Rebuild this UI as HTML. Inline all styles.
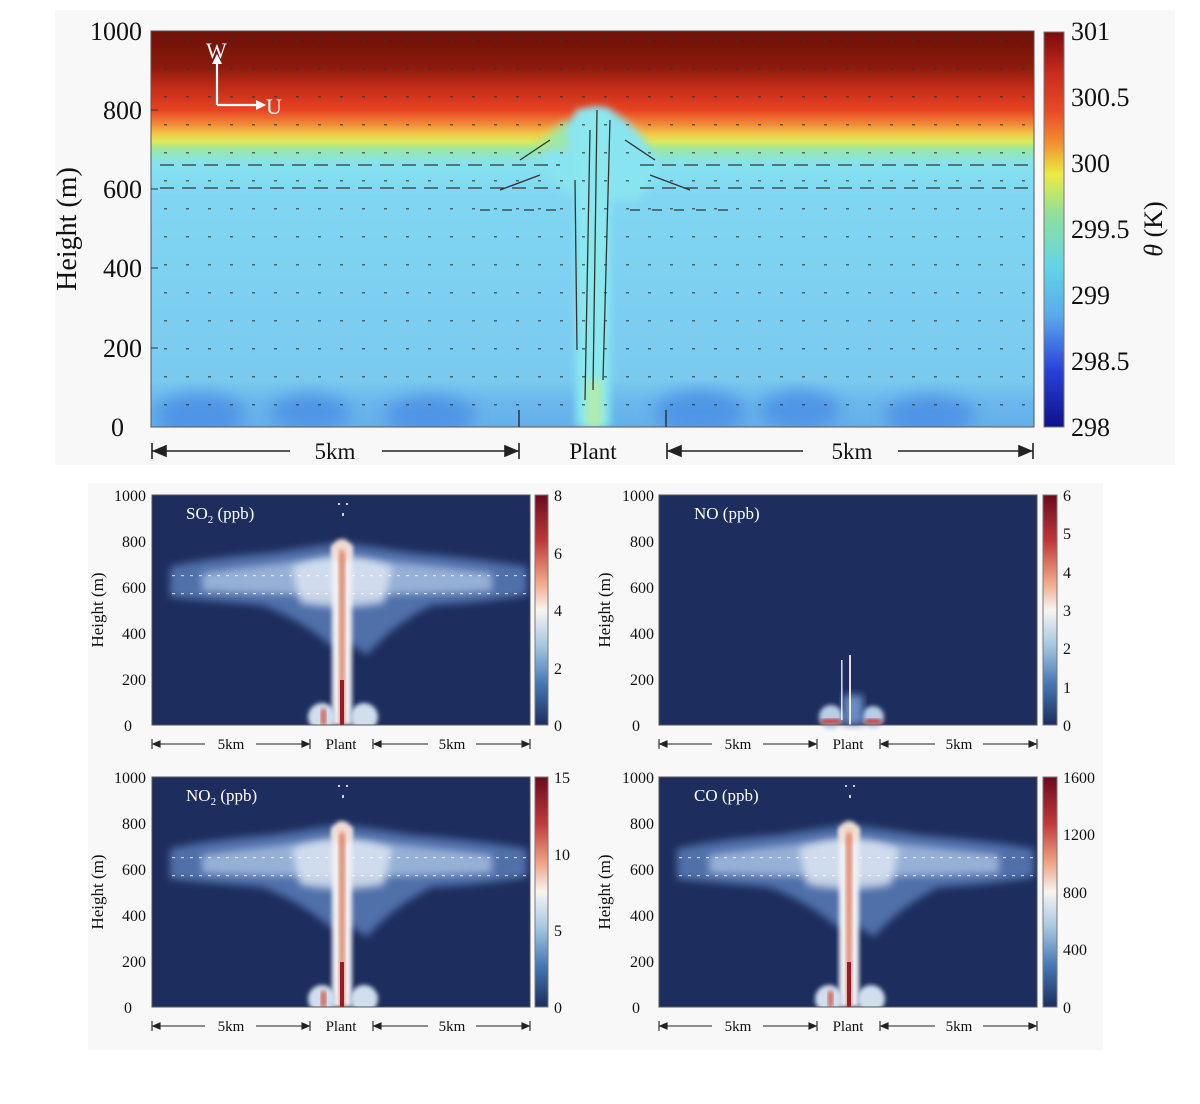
<!DOCTYPE html>
<html><head><meta charset="utf-8"><style>
html,body{margin:0;padding:0;background:#fff}
svg{display:block}
text{font-family:"Liberation Serif",serif;fill:#111}
</style></head><body>
<svg width="1200" height="1104" viewBox="0 0 1200 1104" xmlns="http://www.w3.org/2000/svg">
<defs>
<linearGradient id="th" x1="0" y1="0" x2="0" y2="1">
<stop offset="0" stop-color="#6e1008"/><stop offset="0.09" stop-color="#8a1a0c"/>
<stop offset="0.14" stop-color="#c22a18"/><stop offset="0.2" stop-color="#e84422"/>
<stop offset="0.235" stop-color="#f08a38"/><stop offset="0.26" stop-color="#f2c848"/>
<stop offset="0.28" stop-color="#d8ea5a"/><stop offset="0.30" stop-color="#98e8a8"/>
<stop offset="0.335" stop-color="#86e2f0"/><stop offset="0.42" stop-color="#80d6f2"/>
<stop offset="0.88" stop-color="#7acaf0"/><stop offset="0.94" stop-color="#6ab6ec"/>
<stop offset="1" stop-color="#64b0ea"/>
</linearGradient>
<linearGradient id="jet" x1="0" y1="0" x2="0" y2="1">
<stop offset="0" stop-color="#7a0a0a"/><stop offset="0.1" stop-color="#c82a1e"/>
<stop offset="0.2" stop-color="#e84a28"/><stop offset="0.28" stop-color="#f09030"/>
<stop offset="0.36" stop-color="#ecec40"/><stop offset="0.46" stop-color="#90e09a"/>
<stop offset="0.6" stop-color="#60d4e8"/><stop offset="0.72" stop-color="#5aa8ec"/>
<stop offset="0.86" stop-color="#2840d8"/>
<stop offset="1" stop-color="#10108a"/>
</linearGradient>
<linearGradient id="rdbu" x1="0" y1="0" x2="0" y2="1">
<stop offset="0" stop-color="#6a0a1e"/><stop offset="0.2" stop-color="#c0393a"/>
<stop offset="0.38" stop-color="#f0a888"/><stop offset="0.5" stop-color="#f7f4f2"/>
<stop offset="0.65" stop-color="#a8c8e2"/><stop offset="0.82" stop-color="#4678b4"/>
<stop offset="1" stop-color="#1c2d5e"/>
</linearGradient>
<pattern id="dots" x="0" y="0" width="22" height="28" patternUnits="userSpaceOnUse">
<rect x="10" y="12" width="3" height="1.5" fill="#333" opacity="0.7"/>
</pattern>
<pattern id="wdots" x="0" y="0" width="9" height="18" patternUnits="userSpaceOnUse">
<rect x="2" y="8" width="3" height="1.2" fill="#fff" opacity="0.7"/>
</pattern>
<filter id="b4" x="-20%" y="-20%" width="140%" height="140%"><feGaussianBlur stdDeviation="4"/></filter>
<filter id="b2" x="-20%" y="-20%" width="140%" height="140%"><feGaussianBlur stdDeviation="2"/></filter>
<filter id="b8" x="-20%" y="-20%" width="140%" height="140%"><feGaussianBlur stdDeviation="8"/></filter>
<clipPath id="pc"><rect x="0" y="0" width="378" height="230"/></clipPath>
<clipPath id="tc"><rect x="151" y="31" width="883" height="396"/></clipPath>
<g id="plume" clip-path="url(#pc)">
<rect width="378" height="230" fill="#1d2e5e"/>
<path d="M18,72 Q60,62 120,58 Q170,50 189,48 Q210,50 260,58 Q330,64 375,72 L375,100 Q330,108 280,110 Q240,130 215,160 L200,150 L178,150 Q150,125 110,110 Q60,106 18,102 Z" fill="#5a7cb8" filter="url(#b4)" opacity="0.85"/>
<path d="M50,78 Q120,68 189,62 Q260,68 340,78 L340,96 Q260,100 189,100 Q120,100 50,96 Z" fill="#a8c0e2" filter="url(#b4)" opacity="0.8"/>
<path d="M140,72 Q189,52 240,72 L232,108 Q189,116 148,108 Z" fill="#dfe8f4" filter="url(#b4)" opacity="0.8"/>
<rect x="20" y="74" width="355" height="40" fill="url(#wdots)"/>
<rect x="180" y="50" width="20" height="180" fill="#f0f0f2" filter="url(#b2)"/>
<ellipse cx="190" cy="56" rx="10" ry="12" fill="#f2dcd2" filter="url(#b2)"/>
<path d="M187,60 Q190,48 193,60 L192.5,230 L187.5,230 Z" fill="#e08870" filter="url(#b2)"/>
<rect x="188" y="185" width="4" height="45" fill="#9a1a28"/>
<ellipse cx="170" cy="222" rx="14" ry="14" fill="#d0deee" filter="url(#b2)"/>
<ellipse cx="212" cy="222" rx="14" ry="14" fill="#d0deee" filter="url(#b2)"/>
<rect x="169" y="214" width="5" height="16" fill="#d05a48" filter="url(#b2)"/>
<g fill="#fff" opacity="0.8"><rect x="186" y="8" width="2" height="2"/><rect x="194" y="8" width="2" height="2"/><rect x="190" y="18" width="2" height="3"/></g>
</g>
</defs>

<rect x="55" y="10" width="1120" height="455" fill="#f8f8f8"/>
<rect x="88" y="483" width="1015" height="567" fill="#f8f8f8"/>

<!-- Top panel -->
<rect x="151" y="31" width="883" height="396" fill="url(#th)"/>
<g clip-path="url(#tc)">
<g filter="url(#b8)" fill="#4a8ee4" opacity="0.8">
<ellipse cx="200" cy="415" rx="45" ry="22"/><ellipse cx="310" cy="412" rx="40" ry="18"/><ellipse cx="430" cy="415" rx="45" ry="20"/>
<ellipse cx="700" cy="412" rx="45" ry="22"/><ellipse cx="800" cy="410" rx="40" ry="20"/><ellipse cx="930" cy="415" rx="45" ry="20"/>
</g>
<path d="M540,160 Q560,120 590,108 Q605,104 625,120 Q650,140 660,170 L640,200 L600,200 L560,190 Z" fill="#88e4f0" filter="url(#b4)"/>
<path d="M530,150 Q555,125 565,120 L570,150 Z" fill="#a8e890" filter="url(#b4)" opacity="0.7"/>
<rect x="576" y="110" width="34" height="317" fill="#8ae8ee" filter="url(#b4)"/>
<rect x="586" y="380" width="16" height="47" fill="#b0ecb0" filter="url(#b4)"/>
<rect x="151" y="31" width="883" height="396" fill="url(#dots)"/>
<g stroke="#333" stroke-width="1.3" fill="none">
<path d="M160,165 L560,165 M640,165 L1030,165 M160,188 L560,188 M640,188 L1030,188" stroke-dasharray="14 8"/>
<path d="M480,210 L560,210 M630,210 L740,210" stroke-dasharray="10 12"/>
<path d="M585,400 L590,130 M593,390 L597,110 M603,380 L610,120 M577,350 L575,180"/>
<path d="M520,160 L550,140 M655,160 L625,140 M500,190 L540,175 M690,190 L650,175"/>
</g>
</g>
<rect x="151" y="31" width="883" height="396" fill="none" stroke="#555" stroke-width="1"/>
<g stroke="#333" stroke-width="1.5"><line x1="519" y1="410" x2="519" y2="427"/><line x1="666" y1="410" x2="666" y2="427"/></g>
<g stroke="#fff" stroke-width="2.2" fill="none"><path d="M217,105 L217,62 M217,105 L258,105"/></g>
<path d="M212,64 L217,54 L222,64 Z M256,100 L266,105 L256,110 Z" fill="#fff"/>
<text x="206" y="58" font-size="22" style="fill:#fff">W</text>
<text x="266" y="114" font-size="22" style="fill:#fff">U</text>

<g font-size="26" text-anchor="end">
<text x="142" y="40">1000</text><text x="142" y="119">800</text><text x="142" y="198">600</text>
<text x="142" y="277">400</text><text x="142" y="357">200</text><text x="124" y="436">0</text>
</g>
<g stroke="#333" stroke-width="1"><line x1="151" y1="110" x2="158" y2="110"/><line x1="151" y1="189" x2="158" y2="189"/><line x1="151" y1="268" x2="158" y2="268"/><line x1="151" y1="348" x2="158" y2="348"/></g>
<text transform="translate(76,229) rotate(-90)" font-size="28" text-anchor="middle">Height (m)</text>

<rect x="1044" y="32" width="20" height="395" fill="url(#jet)" stroke="#777" stroke-width="1"/>
<g font-size="26">
<text x="1071" y="40">301</text><text x="1071" y="106">300.5</text><text x="1071" y="172">300</text>
<text x="1071" y="238">299.5</text><text x="1071" y="304">299</text><text x="1071" y="370">298.5</text><text x="1071" y="436">298</text>
</g>
<text transform="translate(1162,229) rotate(-90)" font-size="26" text-anchor="middle"><tspan font-style="italic">θ</tspan> (K)</text>

<g stroke="#222" stroke-width="1.6" fill="#222">
<line x1="152" y1="451" x2="290" y2="451"/><line x1="152" y1="443" x2="152" y2="459"/><path d="M154,451 L166,446 L166,456 Z"/>
<line x1="382" y1="451" x2="519" y2="451"/><line x1="519" y1="443" x2="519" y2="459"/><path d="M517,451 L505,446 L505,456 Z"/>
<line x1="667" y1="451" x2="803" y2="451"/><line x1="667" y1="443" x2="667" y2="459"/><path d="M669,451 L681,446 L681,456 Z"/>
<line x1="898" y1="451" x2="1033" y2="451"/><line x1="1033" y1="443" x2="1033" y2="459"/><path d="M1031,451 L1019,446 L1019,456 Z"/>
</g>
<g font-size="23" text-anchor="middle"><text x="335" y="459">5km</text><text x="593" y="459">Plant</text><text x="852" y="459">5km</text></g>

<use href="#plume" transform="translate(152,495)"/>
<use href="#plume" transform="translate(152,777)"/>
<use href="#plume" transform="translate(659,777)"/>
<g transform="translate(659,495)">
<rect width="378" height="230" fill="#1d2e5e"/>
<ellipse cx="172" cy="222" rx="12" ry="12" fill="#b8cce6" filter="url(#b2)"/>
<ellipse cx="214" cy="222" rx="11" ry="11" fill="#b8cce6" filter="url(#b2)"/>
<rect x="162" y="224" width="20" height="5" fill="#c0302a" filter="url(#b2)"/>
<rect x="206" y="224" width="16" height="5" fill="#c0302a" filter="url(#b2)"/>
<rect x="184" y="200" width="20" height="30" fill="#6a8cc4" filter="url(#b4)"/>
<rect x="182" y="165" width="1.6" height="60" fill="#fff" opacity="0.8"/>
<rect x="190" y="160" width="2" height="70" fill="#fff" opacity="0.85"/>
</g>
<g fill="none" stroke="#555" stroke-width="1">
<rect x="152" y="495" width="378" height="230"/><rect x="659" y="495" width="378" height="230"/>
<rect x="152" y="777" width="378" height="230"/><rect x="659" y="777" width="378" height="230"/>
</g>
<g font-size="17">
<text x="186" y="519" style="fill:#fff">SO<tspan font-size="11" dy="4">2</tspan><tspan dy="-4"> (ppb)</tspan></text>
<text x="694" y="519" style="fill:#fff">NO (ppb)</text>
<text x="186" y="801" style="fill:#fff">NO<tspan font-size="11" dy="4">2</tspan><tspan dy="-4"> (ppb)</tspan></text>
<text x="694" y="801" style="fill:#fff">CO (ppb)</text>
</g>

<g font-size="16" text-anchor="end">
<text x="146" y="501">1000</text><text x="146" y="547">800</text><text x="146" y="593">600</text><text x="146" y="639">400</text><text x="146" y="685">200</text><text x="132" y="731">0</text>
<text x="654" y="501">1000</text><text x="654" y="547">800</text><text x="654" y="593">600</text><text x="654" y="639">400</text><text x="654" y="685">200</text><text x="640" y="731">0</text>
<text x="146" y="783">1000</text><text x="146" y="829">800</text><text x="146" y="875">600</text><text x="146" y="921">400</text><text x="146" y="967">200</text><text x="132" y="1013">0</text>
<text x="654" y="783">1000</text><text x="654" y="829">800</text><text x="654" y="875">600</text><text x="654" y="921">400</text><text x="654" y="967">200</text><text x="640" y="1013">0</text>
</g>
<g font-size="17" text-anchor="middle">
<text transform="translate(103,610) rotate(-90)">Height (m)</text>
<text transform="translate(610,610) rotate(-90)">Height (m)</text>
<text transform="translate(103,892) rotate(-90)">Height (m)</text>
<text transform="translate(610,892) rotate(-90)">Height (m)</text>
</g>

<g stroke="#777" stroke-width="1">
<rect x="535" y="495" width="13" height="230" fill="url(#rdbu)"/>
<rect x="1043" y="495" width="14" height="230" fill="url(#rdbu)"/>
<rect x="535" y="777" width="13" height="230" fill="url(#rdbu)"/>
<rect x="1043" y="777" width="14" height="230" fill="url(#rdbu)"/>
</g>
<g font-size="16">
<text x="554" y="501">8</text><text x="554" y="559">6</text><text x="554" y="616">4</text><text x="554" y="674">2</text><text x="554" y="731">0</text>
<text x="1063" y="501">6</text><text x="1063" y="539">5</text><text x="1063" y="578">4</text><text x="1063" y="616">3</text><text x="1063" y="654">2</text><text x="1063" y="693">1</text><text x="1063" y="731">0</text>
<text x="554" y="783">15</text><text x="554" y="860">10</text><text x="554" y="936">5</text><text x="554" y="1013">0</text>
<text x="1063" y="783">1600</text><text x="1063" y="840">1200</text><text x="1063" y="898">800</text><text x="1063" y="955">400</text><text x="1063" y="1013">0</text>
</g>

<g id="dist" stroke="#222" stroke-width="1.1" fill="#222">
<line x1="152" y1="744" x2="205" y2="744"/><line x1="152" y1="739" x2="152" y2="749"/><path d="M153,744 L160,741 L160,747 Z"/>
<line x1="256" y1="744" x2="310" y2="744"/><line x1="310" y1="739" x2="310" y2="749"/><path d="M309,744 L302,741 L302,747 Z"/>
<line x1="373" y1="744" x2="428" y2="744"/><line x1="373" y1="739" x2="373" y2="749"/><path d="M374,744 L381,741 L381,747 Z"/>
<line x1="476" y1="744" x2="530" y2="744"/><line x1="530" y1="739" x2="530" y2="749"/><path d="M529,744 L522,741 L522,747 Z"/>
</g>
<use href="#dist" transform="translate(507,0)"/>
<use href="#dist" transform="translate(0,282)"/>
<use href="#dist" transform="translate(507,282)"/>
<g font-size="15" text-anchor="middle">
<text x="231" y="749">5km</text><text x="341" y="749">Plant</text><text x="452" y="749">5km</text>
<text x="738" y="749">5km</text><text x="848" y="749">Plant</text><text x="959" y="749">5km</text>
<text x="231" y="1031">5km</text><text x="341" y="1031">Plant</text><text x="452" y="1031">5km</text>
<text x="738" y="1031">5km</text><text x="848" y="1031">Plant</text><text x="959" y="1031">5km</text>
</g>
</svg>
</body></html>
